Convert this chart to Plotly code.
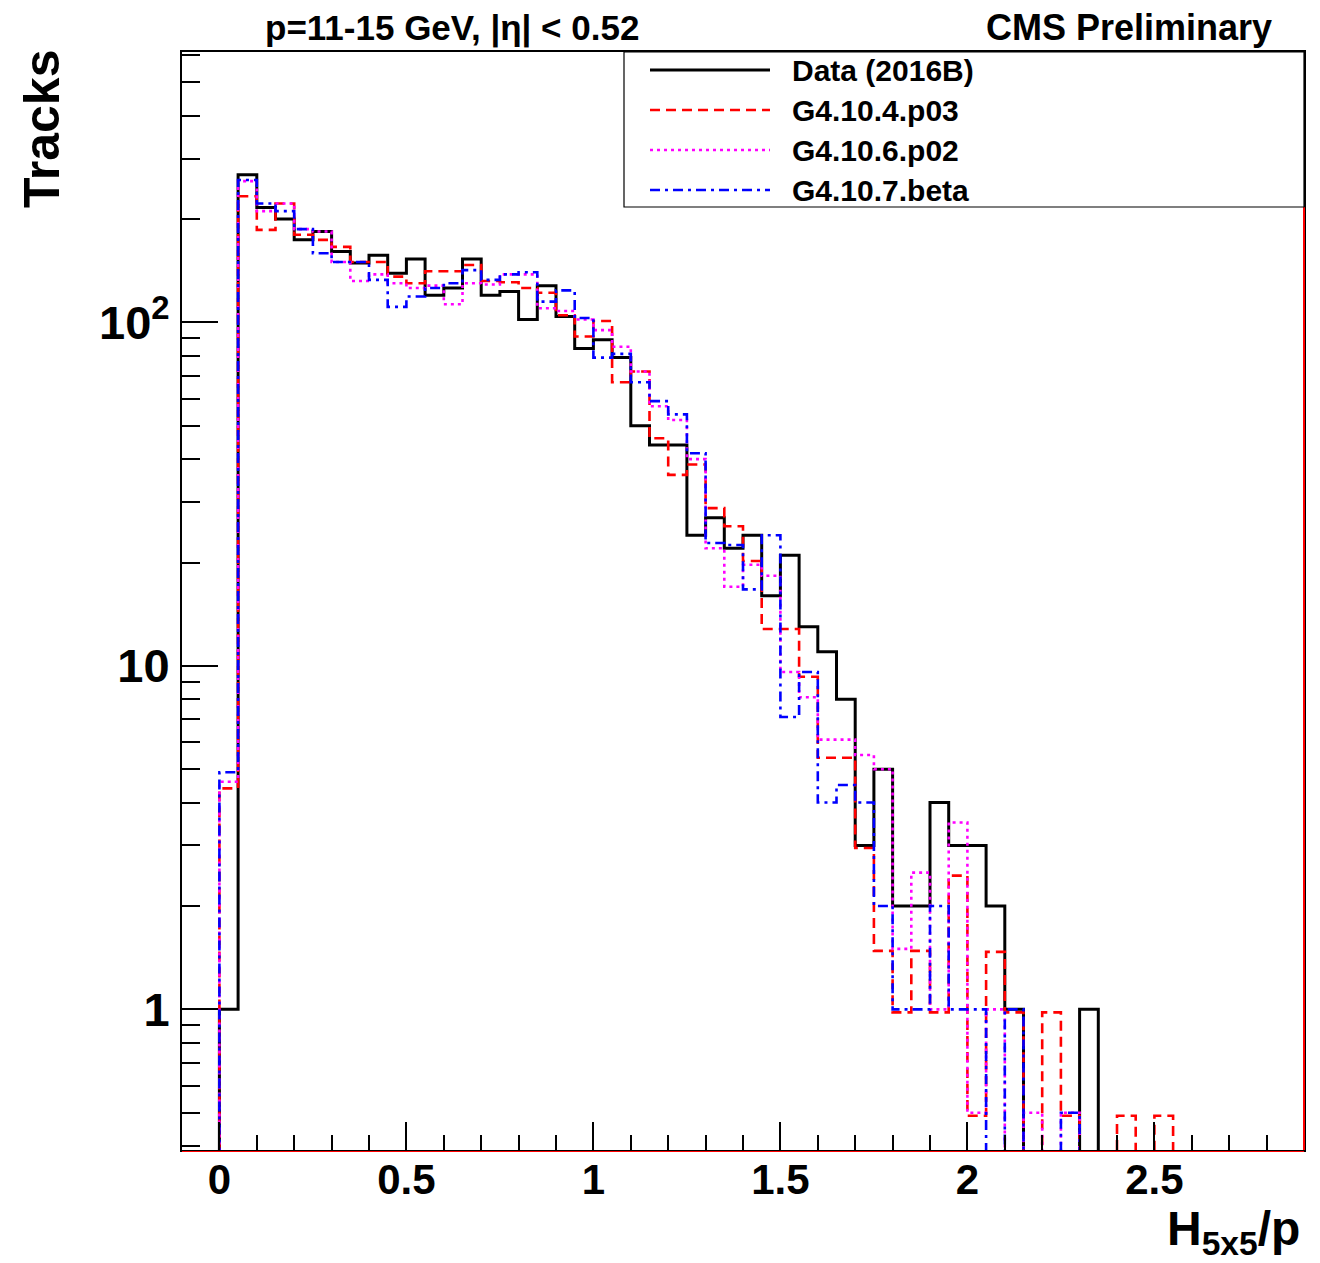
import plotly.graph_objects as go

# ---------------- data ----------------
BIN_WIDTH = 0.05
bin_low = [round(i * BIN_WIDTH, 2) for i in range(51)]  # left bin edges, H5x5/p

data_2016B = [1, 269, 216, 200, 174, 184, 161, 149, 157, 139,
              153, 120, 126, 153, 120, 123, 102, 128, 104, 84,
              89, 79, 50, 44, 44, 24, 27, 22, 24, 16,
              21, 13, 11, 8, 3, 5, 2, 2, 4, 3,
              3, 2, 1, 0, 0, 0, 1, 0, 0, 0, 0]

g4_10_4_p03 = [4.4, 233, 186, 222, 180, 174, 166, 150, 150, 136,
               130, 141, 141, 147, 132, 131, 126, 122, 105, 91,
               101, 67, 72, 46, 36, 38.6, 28.8, 25.5, 20.2, 12.8,
               12.8, 9.3, 5.4, 5.4, 2.95, 1.48, 0.98, 1.48, 0.98, 2.45,
               0.49, 1.47, 0.98, 0, 0.98, 0.49, 0, 0, 0.49, 0, 0.49]

g4_10_6_p02 = [4.6, 258, 211, 222, 187, 184, 150, 132, 138, 130,
               126, 128, 113, 130, 129, 138, 138, 110, 108, 102,
               95, 85, 72, 57, 52, 40, 22, 17, 19.7, 18.3,
               9.6, 8.1, 6.1, 6.1, 5.5, 5.0, 1.5, 2.5, 1.0, 3.5,
               0.5, 1.0, 0, 0.5, 0, 0.5, 0, 0, 0, 0, 0]

g4_10_7_beta = [4.9, 260, 222, 211, 187, 159, 150, 150, 133, 111,
                119, 126, 130, 142, 133, 138, 140, 115, 124, 103,
                79, 81, 67, 59, 54, 41.6, 22.8, 22.5, 16.7, 24,
                7.1, 9.6, 4.0, 4.5, 4.0, 2.0, 1.0, 1.0, 2.0, 1.0,
                1.0, 0, 1.0, 0, 0, 0.5, 0, 0, 0, 0, 0]

series_names = ["Data (2016B)", "G4.10.4.p03", "G4.10.6.p02", "G4.10.7.beta"]
series_values = [data_2016B, g4_10_4_p03, g4_10_6_p02, g4_10_7_beta]

x_tick_vals = [0, 0.5, 1, 1.5, 2, 2.5]
x_tick_text = ["0", "0.5", "1", "1.5", "2", "2.5"]
y_tick_vals = [1, 10, 100]
y_tick_text = ["1", "10", "10<sup>2</sup>"]
y_minor_vals = [0.4, 0.5, 0.6, 0.7, 0.8, 0.9,
                2, 3, 4, 5, 6, 7, 8, 9,
                20, 30, 40, 50, 60, 70, 80, 90,
                200, 300, 400, 500, 600]

# ---------------- styles ----------------
colors = ["black", "#ff0000", "#ff00ff", "#0000ff"]
dashes = ["solid", "10px,6px", "3px,4px", "10px,5px,3px,5px"]
widths = [3, 2.6, 2.6, 2.6]

Y_LOG_RANGE = [-0.4096, 2.7875]
X_RANGE = [-0.1, 2.9]
FLOOR = 0.2  # zero bins drop below the visible log range
FONT = "Liberation Sans, Arial, Helvetica, sans-serif"


def step_xy(vals):
    last = bin_low[-1] + BIN_WIDTH
    xs = [bin_low[0]] + bin_low + [last, last]
    ys = [FLOOR] + [max(v, FLOOR) for v in vals] + [max(vals[-1], FLOOR), FLOOR]
    return xs, ys


fig = go.Figure()
for name, vals, c, d, w in zip(series_names, series_values, colors, dashes, widths):
    xs, ys = step_xy(vals)
    fig.add_trace(go.Scatter(x=xs, y=ys, mode="lines", name=name,
                             line=dict(color=c, dash=d, width=w, shape="hv"),
                             showlegend=False, hoverinfo="skip"))

# ---------------- layout geometry ----------------
W, H = 1320, 1263
L, R, T, B = 182, 16, 52, 113
PW, PH = W - L - R, H - T - B


def px(xp):
    return (xp - L) / PW


def py(yp):
    return (H - B - yp) / PH


fig.update_layout(
    width=W, height=H,
    margin=dict(l=L, r=R, t=T, b=B),
    paper_bgcolor="white", plot_bgcolor="white",
    font=dict(family=FONT, color="black"),
    showlegend=False,
)

fig.update_xaxes(
    range=X_RANGE, tickmode="array", tickvals=x_tick_vals, ticktext=x_tick_text,
    ticks="inside", ticklen=28, tickwidth=2, tickcolor="black",
    minor=dict(ticks="inside", dtick=0.1, tick0=0, ticklen=15, tickwidth=2, tickcolor="black", showgrid=False),
    showline=True, linecolor="black", linewidth=2, mirror=True,
    showgrid=False, zeroline=False,
    tickfont=dict(family=FONT, size=42, weight="bold", color="black"),
    ticklabelstandoff=-8,
)

fig.update_yaxes(
    type="log", range=Y_LOG_RANGE, tickmode="array", tickvals=y_tick_vals, ticktext=y_tick_text,
    ticks="inside", ticklen=36, tickwidth=2, tickcolor="black",
    minor=dict(ticks="inside", tickmode="array", tickvals=y_minor_vals, ticklen=18, tickwidth=2,
               tickcolor="black", showgrid=False),
    showline=True, linecolor="black", linewidth=2, mirror=True,
    showgrid=False, zeroline=False,
    tickfont=dict(family=FONT, size=47, weight="bold", color="black"),
    ticklabelstandoff=1,
)

shapes = []
# red frame edges (as in the reference)
shapes.append(dict(type="line", xref="paper", yref="paper", x0=1, x1=1, y0=0, y1=py(207),
                   line=dict(color="#ff0000", width=2), layer="above"))
shapes.append(dict(type="line", xref="paper", yref="paper", x0=0, x1=1, y0=py(1151.5), y1=py(1151.5),
                   line=dict(color="#ff0000", width=1.2), layer="above"))
# legend box
shapes.append(dict(type="rect", xref="paper", yref="paper", x0=px(624), x1=1.0, y0=py(207), y1=1.0,
                   fillcolor="white", line=dict(color="black", width=1.2), layer="above"))
row_y = [70, 110, 150, 190]
annotations = []
for name, c, d, w, ry in zip(series_names, colors, dashes, widths, row_y):
    shapes.append(dict(type="line", xref="paper", yref="paper", x0=px(650), x1=px(770),
                       y0=py(ry), y1=py(ry), line=dict(color=c, dash=d, width=w), layer="above"))
    annotations.append(dict(xref="paper", yref="paper", x=px(790), y=py(ry), text=name,
                            showarrow=False, xanchor="left", yanchor="middle",
                            font=dict(family=FONT, size=30, weight="bold", color="black")))

annotations += [
    dict(xref="paper", yref="paper", x=px(452), y=py(28), text="p=11-15 GeV, |η| < 0.52",
         showarrow=False, xanchor="center", yanchor="middle",
         font=dict(family=FONT, size=35, weight="bold", color="black")),
    dict(xref="paper", yref="paper", x=px(1274), y=py(28), text="CMS Preliminary",
         showarrow=False, xanchor="right", yanchor="middle",
         font=dict(family=FONT, size=36, weight="bold", color="black")),
    dict(xref="paper", yref="paper", x=px(42), y=py(48), text="Tracks", textangle=-90,
         showarrow=False, xanchor="center", yanchor="top",
         font=dict(family=FONT, size=50, weight="bold", color="black")),
    dict(xref="paper", yref="paper", x=px(1302), y=py(1232), text="H<sub>5x5</sub>/p",
         showarrow=False, xanchor="right", yanchor="middle",
         font=dict(family=FONT, size=48, weight="bold", color="black")),
]

fig.update_layout(shapes=shapes, annotations=annotations)
fig.write_html("out.html")
